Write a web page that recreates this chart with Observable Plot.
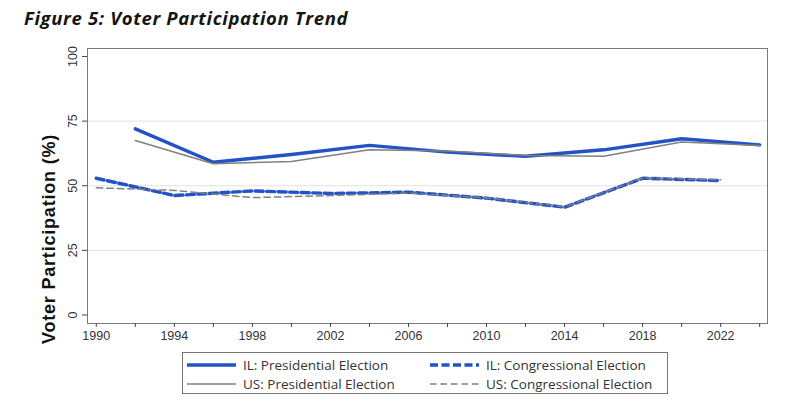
<!DOCTYPE html>
<html>
<head>
<meta charset="utf-8">
<script src="https://cdn.jsdelivr.net/npm/d3@7"></script>
<script src="https://cdn.jsdelivr.net/npm/@observablehq/plot@0.6"></script>
<style>
  body { margin: 0; background: #fff; width: 800px; height: 404px; overflow: hidden; position: relative; }
  #chart { position: absolute; left: 0; top: 0; }
  #title { position: absolute; left: 24px; top: 5px; font: italic 700 18.5px "Open Sans", sans-serif; letter-spacing: 0.65px; color: #151515; white-space: nowrap; }
  #ylab { position: absolute; left: 49px; top: 239px; transform: translate(-50%, -50%) rotate(-90deg); font: 700 18px "Liberation Sans", Arial, sans-serif; letter-spacing: 0.8px; color: #111; white-space: nowrap; }
  #legend { position: absolute; left: 182px; top: 352px; width: 486px; height: 42px; border: 1px solid #777; box-sizing: border-box; font: 13.5px "Open Sans", sans-serif; color: #333; }
  .item { position: absolute; display: flex; align-items: center; height: 16px; white-space: nowrap; }
  .item svg { margin-right: 7px; }
</style>
</head>
<body>
<div id="title">Figure 5: Voter Participation Trend</div>
<div id="chart"></div>
<div id="ylab">Voter Participation (%)</div>
<div id="legend"></div>
<script>
// Presidential election years and turnout (%)
const presYears = [1992, 1996, 2000, 2004, 2008, 2012, 2016, 2020, 2024];
const ilPres    = [72.0, 59.1, 62.1, 65.6, 63.0, 61.4, 63.9, 68.2, 65.8];
const usPres    = [67.5, 58.5, 59.4, 63.9, 63.4, 61.7, 61.4, 66.9, 65.6];

// Congressional (midterm) election years and turnout (%)
const congYears = [1990, 1994, 1998, 2002, 2006, 2010, 2014, 2018, 2022];
const ilCong    = [52.9, 46.2, 48.0, 47.0, 47.5, 45.2, 41.7, 52.9, 52.0];
const usCong    = [49.2, 48.2, 45.4, 46.2, 47.2, 45.3, 41.8, 53.0, 52.3];

const yTicks = [0, 25, 50, 75, 100];
const xTicks = d3.range(1990, 2025, 2);

const blue = "#2152c6";
const grey = "#808080";

const series = [
  {name: "IL: Presidential Election",   years: presYears, values: ilPres, stroke: blue, width: 3.4, dash: null},
  {name: "IL: Congressional Election",  years: congYears, values: ilCong, stroke: blue, width: 3.4, dash: "8,3.5"},
  {name: "US: Presidential Election",   years: presYears, values: usPres, stroke: grey, width: 1.5, dash: null},
  {name: "US: Congressional Election",  years: congYears, values: usCong, stroke: grey, width: 1.5, dash: "6.5,4"}
];

const rows = series.map(s => s.years.map((year, i) => ({year, value: s.values[i]})));

const chart = Plot.plot({
  width: 800,
  height: 404,
  marginTop: 48,
  marginBottom: 81,
  marginLeft: 87,
  marginRight: 33,
  style: {fontFamily: "'Liberation Sans', Arial, sans-serif", fontSize: "12.5px", color: "#333", background: "transparent"},
  x: {domain: [1989.55, 2024.4]},
  y: {domain: [-3.3, 103.1]},
  marks: [
    Plot.gridY([25, 50, 75], {stroke: "#e2e2e2", strokeOpacity: 1}),
    Plot.frame({stroke: "#7a7a7a"}),
    Plot.axisX({ticks: xTicks, tickFormat: d => d % 4 === 2 ? String(d) : "", tickSize: 4, tickPadding: 4, label: null, stroke: "#444", line: true}),
    Plot.axisY({ticks: yTicks, tickSize: 5, tickPadding: 6, tickRotate: -90, label: null, stroke: "#444", line: true}),
    ...series.map((s, k) => Plot.line(rows[k], {
      x: "year", y: "value", stroke: s.stroke, strokeWidth: s.width,
      strokeDasharray: s.dash ?? undefined, strokeLinejoin: "round"
    }))
  ]
});
document.getElementById("chart").append(chart);

// Legend: two columns, IL on top row, US on bottom row
const legend = document.getElementById("legend");
const spots = [
  {left: 4, top: 4}, {left: 247, top: 4},
  {left: 4, top: 23}, {left: 247, top: 23}
];
series.forEach((s, i) => {
  const item = document.createElement("div");
  item.className = "item";
  item.style.left = spots[i].left + "px";
  item.style.top = spots[i].top + "px";
  const w = 49;
  item.innerHTML =
    `<svg width="${w}" height="8"><line x1="0" x2="${w}" y1="4" y2="4" stroke="${s.stroke}" stroke-width="${s.width}" ${s.dash ? `stroke-dasharray="${s.dash}"` : ""}/></svg><span>${s.name}</span>`;
  legend.append(item);
});
</script>
</body>
</html>
